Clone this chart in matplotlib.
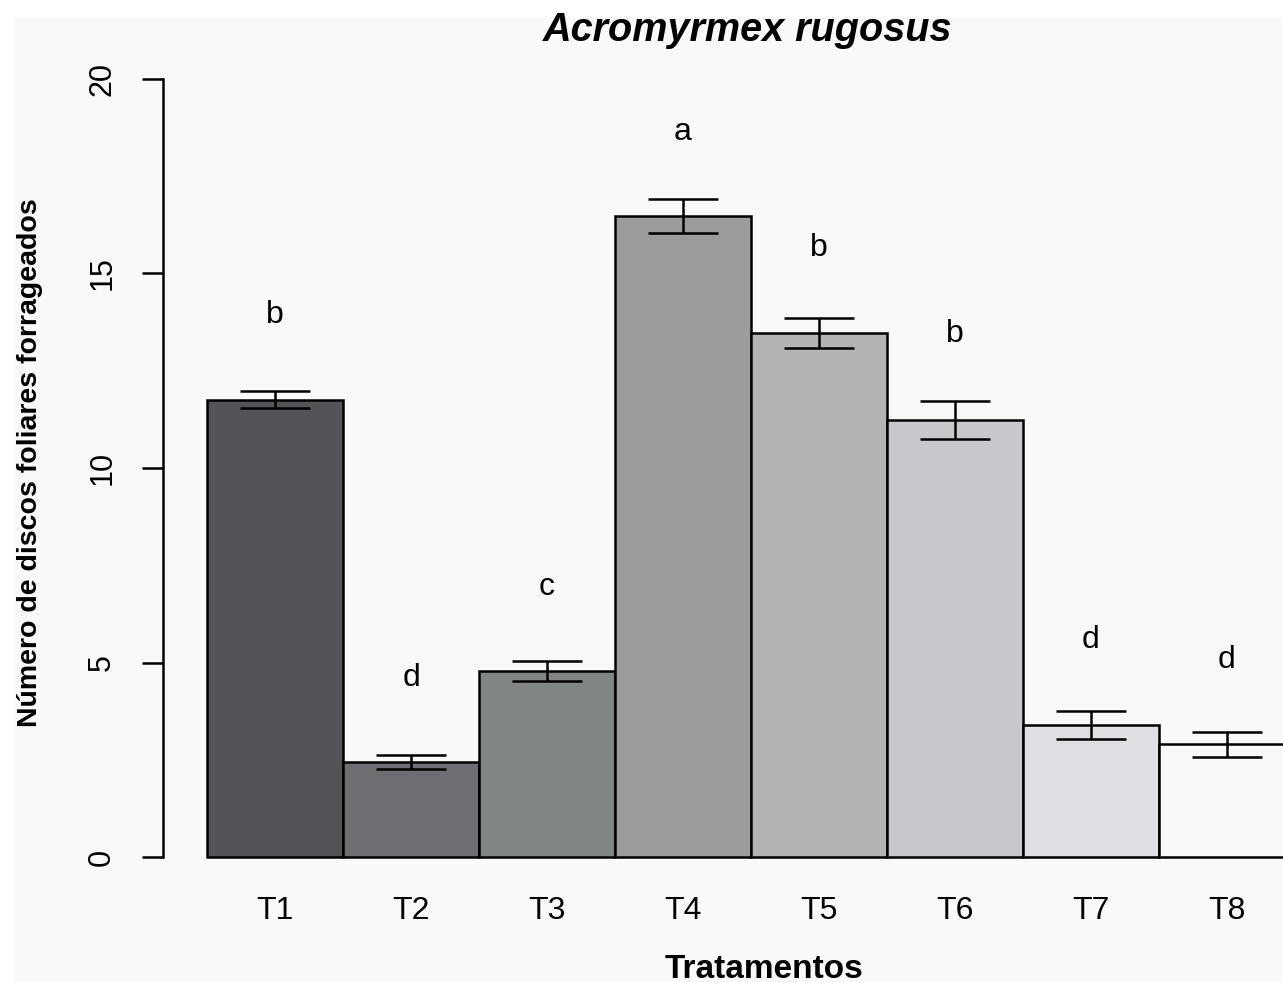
import matplotlib
matplotlib.use("Agg")
import matplotlib.pyplot as plt
from matplotlib.patches import Rectangle

categories = ["T1", "T2", "T3", "T4", "T5", "T6", "T7", "T8"]
means = [11.75, 2.45, 4.78, 16.48, 13.47, 11.23, 3.39, 2.90]
errors = [0.22, 0.18, 0.26, 0.44, 0.39, 0.49, 0.36, 0.32]
letters = ["b", "d", "c", "a", "b", "b", "d", "d"]
letter_y = [13.93, 4.60, 6.94, 18.64, 15.66, 13.45, 5.58, 5.06]
colors = ["#555358", "#6e6d71", "#818685", "#9c9c9c", "#b4b4b4", "#c9c9cd", "#e0e0e4", "#f9f9f9"]
yticks = [0, 5, 10, 15, 20]

plt.rcParams['font.family'] = ['Liberation Sans', 'DejaVu Sans']

W, H = 1283, 982
fig = plt.figure(figsize=(W / 100, H / 100), dpi=100)
fig.patch.set_facecolor("white")
bg = Rectangle((14 / W, 0), 1, 1 - 17 / H, transform=fig.transFigure,
               facecolor="#f9f9f9", edgecolor="none", zorder=-10)
fig.patches.append(bg)

ax = fig.add_axes([163 / W, (H - 857) / H, (W - 163) / W, (857 - 79) / H])
ax.set_facecolor("none")

lw = 1.8
x = list(range(len(categories)))
ax.bar(x, means, width=1.0, color=colors, edgecolor="black",
       linewidth=lw, clip_on=False, zorder=2)
ax.errorbar(x, means, yerr=errors, fmt="none", ecolor="black",
            elinewidth=lw, capsize=25, capthick=lw, clip_on=False, zorder=3)
for xi, lt, ly in zip(x, letters, letter_y):
    ax.text(xi, ly, lt, ha="center", va="center", fontsize=23, clip_on=False)

ax.set_xlim((163 - 275) / 136, (W - 275) / 136)
ax.set_ylim(0, 20)

for s in ["top", "right", "bottom"]:
    ax.spines[s].set_visible(False)
ax.spines["left"].set_linewidth(lw)
ax.spines["left"].set_bounds(0, 20)

ax.set_yticks(yticks)
ax.set_yticklabels([str(t) for t in yticks], rotation=90, va="center", fontsize=22)
ax.tick_params(axis="y", length=15, width=lw, pad=18)
ax.set_xticks(x)
ax.set_xticklabels(categories, fontsize=23)
ax.tick_params(axis="x", length=0, pad=28)

fig.text(748 / W, 1 - 30 / H, "Acromyrmex rugosus", ha="center", va="center",
         fontsize=28.5, fontweight="bold", fontstyle="italic")
fig.text(30 / W, 1 - 463 / H, "Número de discos foliares forrageados", rotation=90,
         ha="center", va="center", fontsize=20.5, fontweight="bold")
fig.text(764 / W, 1 - 969 / H, "Tratamentos", ha="center", va="center",
         fontsize=24, fontweight="bold")

fig.savefig("out.png", dpi=100)
